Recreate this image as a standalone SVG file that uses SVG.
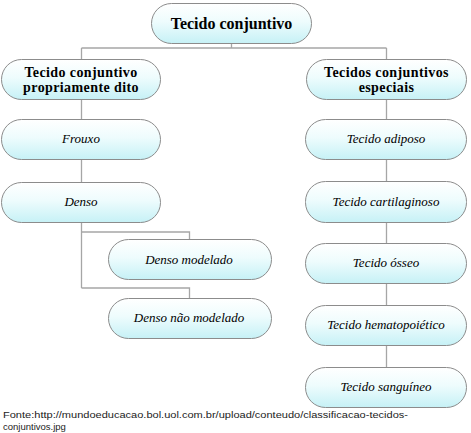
<svg xmlns="http://www.w3.org/2000/svg" width="471" height="433" viewBox="0 0 471 433">
<defs>
<linearGradient id="g" x1="0" y1="0" x2="0" y2="1">
<stop offset="0" stop-color="#ffffff"/>
<stop offset="0.45" stop-color="#eefcfd"/>
<stop offset="1" stop-color="#c6f1f6"/>
</linearGradient>
</defs>
<style>
.n{fill:url(#g);stroke:#8c8c8c;stroke-width:1}
.c{fill:none;stroke:#a6a6a6;stroke-width:1.3}
.b{font-weight:bold;fill:#000;text-anchor:middle}
.i{font-style:italic;font-size:13px;fill:#000;text-anchor:middle}
.f{font-size:9.5px;fill:#222}
</style>
<rect width="471" height="433" fill="#fff"/>
<g id="connectors">
<path class="c" d="M231.5 43V48M81.5 48H386.5M81.5 48V59M386.5 48V59"/>
<path class="c" d="M81.5 99V119M81.5 160V182M81.5 222V288M81.5 232H189.5V239M81.5 288H189.5V298"/>
<path class="c" d="M386.5 99V119M386.5 160V181M386.5 222V243M386.5 284V305M386.5 346V367"/>
</g>
<g font-family="Liberation Serif, Times New Roman, serif">
<g id="n-root"><rect class="n" x="151.5" y="3.5" width="160" height="40" rx="20"/><text class="b" x="231.5" y="28.5" font-size="16">Tecido conjuntivo</text></g>
<g id="n-proprio"><rect class="n" x="1.5" y="59.5" width="159" height="40" rx="20"/><text class="b" x="81" y="77" font-size="14" letter-spacing="0.4">Tecido conjuntivo</text><text class="b" x="81" y="92" font-size="14" letter-spacing="0.4">propriamente dito</text></g>
<g id="n-especiais"><rect class="n" x="306.5" y="59.5" width="160" height="40" rx="20"/><text class="b" x="386.5" y="77" font-size="14" letter-spacing="0.4">Tecidos conjuntivos</text><text class="b" x="386.5" y="92" font-size="14" letter-spacing="0.4">especiais</text></g>
<g id="n-frouxo"><rect class="n" x="1.5" y="119.5" width="159" height="40" rx="20"/><text class="i" x="81" y="143">Frouxo</text></g>
<g id="n-denso"><rect class="n" x="1.5" y="182.5" width="159" height="40" rx="20"/><text class="i" x="81" y="206">Denso</text></g>
<g id="n-denso-mod"><rect class="n" x="108.5" y="239.5" width="163" height="40" rx="20"/><text class="i" x="189" y="264">Denso modelado</text></g>
<g id="n-denso-nmod"><rect class="n" x="108.5" y="298.5" width="163" height="40" rx="20"/><text class="i" x="189" y="322">Denso não modelado</text></g>
<g id="n-adiposo"><rect class="n" x="305.5" y="119.5" width="161" height="40" rx="20"/><text class="i" x="386" y="143">Tecido adiposo</text></g>
<g id="n-cartilaginoso"><rect class="n" x="305.5" y="181.5" width="161" height="41" rx="20"/><text class="i" x="386" y="206">Tecido cartilaginoso</text></g>
<g id="n-osseo"><rect class="n" x="305.5" y="243.5" width="161" height="40" rx="20"/><text class="i" x="386" y="267">Tecido ósseo</text></g>
<g id="n-hemato"><rect class="n" x="305.5" y="305.5" width="161" height="40" rx="20"/><text class="i" x="386" y="329">Tecido hematopoiético</text></g>
<g id="n-sanguineo"><rect class="n" x="305.5" y="367.5" width="161" height="40" rx="20"/><text class="i" x="386" y="391">Tecido sanguíneo</text></g>
</g>
<g font-family="Liberation Sans, Arial, sans-serif">
<text class="f" x="3" y="418" textLength="405" lengthAdjust="spacingAndGlyphs">Fonte:http://mundoeducacao.bol.uol.com.br/upload/conteudo/classificacao-tecidos-</text>
<text class="f" x="3" y="430">conjuntivos.jpg</text>
</g>
</svg>
